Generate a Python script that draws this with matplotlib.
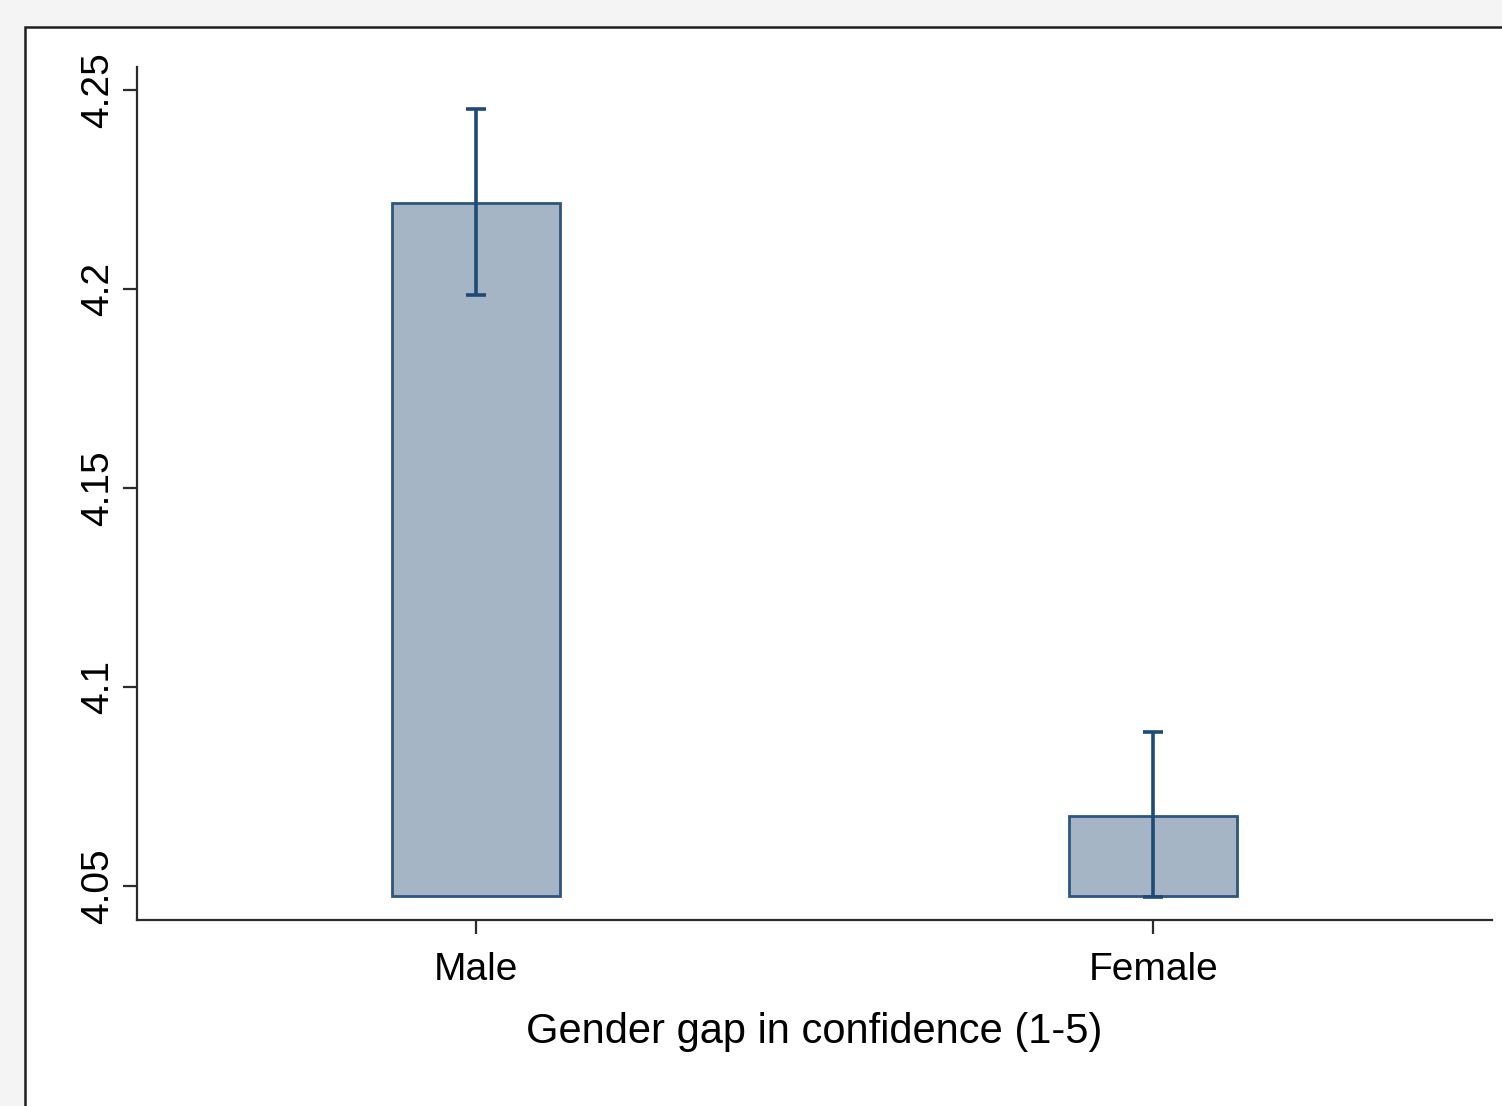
import matplotlib.pyplot as plt
from matplotlib.patches import Rectangle

# group means and 95% CI bounds, confidence on a 1-5 scale
groups = ["Male", "Female"]
means = [4.2216, 4.0676]
ci_low = [4.1985, 4.0472]
ci_high = [4.2452, 4.0887]
bar_base = 4.0475

y_ticks = [4.05, 4.1, 4.15, 4.2, 4.25]
y_tick_labels = ["4.05", "4.1", "4.15", "4.2", "4.25"]

FILL = "#a5b5c6"
EDGE = "#2d5681"
ERR = "#1d4a76"
AXIS = "#2b2b2b"

plt.rcParams["font.family"] = ["Liberation Sans", "DejaVu Sans"]

W, H = 1502, 1106
fig = plt.figure(figsize=(W / 100, H / 100), dpi=100)
fig.patch.set_facecolor("#f4f4f4")

# white graph region with a dark frame, kept behind the axes
frame = Rectangle((25 / W, -0.01), 1.0, 1.01 - 27 / H, transform=fig.transFigure,
                  facecolor="white", edgecolor="#1e1e1e", linewidth=1.8, zorder=-5)
fig.patches.append(frame)

ax = fig.add_axes([137 / W, 1 - 920 / H, (1492 - 137) / W, (920 - 67) / H])
ax.set_facecolor("none")
ax.set_zorder(2)

x = list(range(len(groups)))
heights = [m - bar_base for m in means]
ax.bar(x, heights, bottom=bar_base, width=0.248, color=FILL, edgecolor=EDGE,
       linewidth=2.0, zorder=2)

err_lo = [m - lo for m, lo in zip(means, ci_low)]
err_hi = [hi - m for m, hi in zip(means, ci_high)]
ax.errorbar(x, means, yerr=[err_lo, err_hi], fmt="none", ecolor=ERR,
            elinewidth=2.6, capsize=7, capthick=2.6, zorder=3)

ax.set_xlim(-0.5, 1.5)
ax.set_ylim(4.04146, 4.25578)

ax.set_yticks(y_ticks)
ax.set_yticklabels(y_tick_labels, rotation=90, va="center")
ax.set_xticks(x)
ax.set_xticklabels(groups)
ax.tick_params(axis="both", labelsize=28, length=10, width=1.6, color=AXIS,
               labelcolor="black")
ax.tick_params(axis="x", pad=13)
ax.tick_params(axis="y", pad=5)
ax.set_xlabel("Gender gap in confidence (1-5)", fontsize=30, labelpad=17)

for side in ("top", "right"):
    ax.spines[side].set_visible(False)
for side in ("left", "bottom"):
    ax.spines[side].set_color(AXIS)
    ax.spines[side].set_linewidth(1.6)

fig.savefig("out.png", dpi=100)
